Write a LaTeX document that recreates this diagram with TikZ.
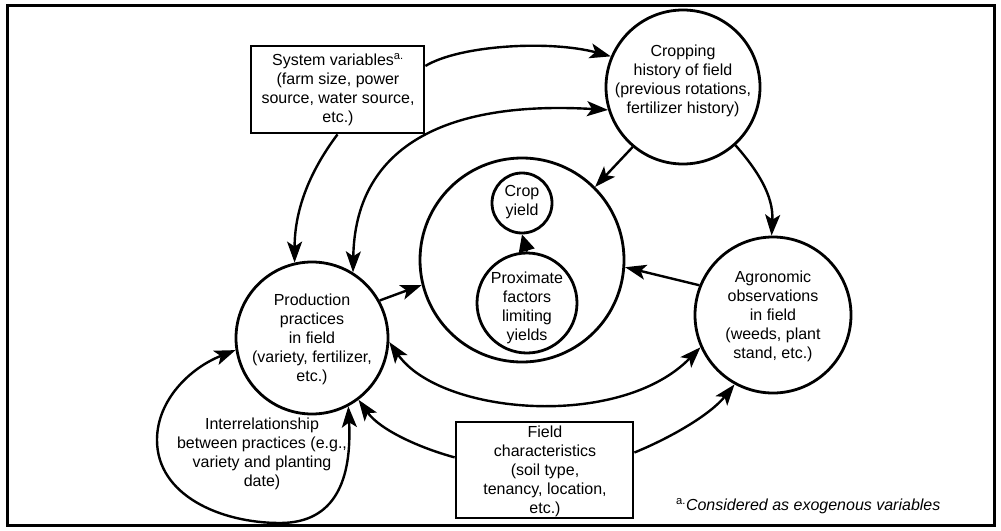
\documentclass[tikz,border=0pt]{standalone}
\usepackage{fontspec}
\setmainfont{Liberation Sans}
\usetikzlibrary{arrows.meta}
\begin{document}
\begin{tikzpicture}[x=1pt,y=-1pt,
  every node/.style={font=\fontsize{16}{19}\selectfont, align=center, inner sep=0pt},
  circ/.style={draw, circle, line width=2.8pt},
  boxn/.style={draw, rectangle, line width=2.8pt},
  tipa/.tip={Stealth[length=21pt,width=15pt,inset=5pt]},
  arr/.style={line width=2.4pt, -tipa},
  darr/.style={line width=2.4pt, tipa-tipa},
]
\useasboundingbox (0,0) rectangle (1001,530);
\draw[line width=3pt] (7,5) rectangle (994,525);

% circles
\node[circ, minimum size=154pt] (crop) at (683,87) {};
\node[circ, minimum size=204pt] (big) at (522,260) {};
\node[circ, minimum size=60pt] (yield) at (522,203) {};
\node[circ, minimum size=100pt] (prox) at (527,303) {};
\node[circ, minimum size=152pt] (prod) at (312,338) {};
\node[circ, minimum size=156pt] (agro) at (773,315) {};

% boxes
\node[boxn, minimum width=173pt, minimum height=87pt] (sys) at (337.5,89.5) {};
\node[boxn, minimum width=177pt, minimum height=96pt] (field) at (544.5,470) {};

% texts
\node (croptxt) at (683,81) {Cropping\\history of field\\(previous rotations,\\fertilizer history)};
\node (yieldtxt) at (522,202) {Crop\\yield};
\node (proxtxt) at (527,308) {Proximate\\factors\\limiting\\yields};
\node (prodtxt) at (312,339) {Production\\practices\\in field\\(variety, fertilizer,\\etc.)};
\node (agrotxt) at (773,316) {Agronomic\\observations\\in field\\(weeds, plant\\stand, etc.)};
\node (systxt) at (338,90) {System variables\textsuperscript{a.}\\(farm size, power\\source, water source,\\etc.)};
\node (fieldtxt) at (545,471) {Field\\characteristics\\(soil type,\\tenancy, location,\\etc.)};
\node (intertxt) at (262,454) {Interrelationship\\between practices (e.g.,\\variety and planting\\date)};
\node[anchor=west, font=\fontsize{16}{19}\selectfont\itshape] (note) at (676,506) {\textsuperscript{\upshape a.}Considered as exogenous variables};

% connectors
\draw[arr] (sys.south) .. controls +(-30,40) and +(0,-50) .. (prod.103);
\draw[arr] (sys.15) .. controls (460,45) and (550,40) .. (crop.157);
\draw[darr] (prod.58) .. controls (355,150) and (440,100) .. (crop.197);
\draw[arr] (crop.230) -- (big.45);
\draw[arr] (crop.312) .. controls +(22,25) and +(2,-40) .. (agro.91);
\draw[arr] (agro.158) -- (big.-4);
\draw[arr] (prod.29) -- (big.194);
\draw[darr] (prod.-3) .. controls (440,415) and (620,430) .. (agro.204);
\draw[arr] (field.172) .. controls (420,448) and (380,430) .. (prod.-53);
\draw[arr] (field.11) .. controls (670,438) and (710,415) .. (agro.241);
\draw[line width=2.4pt, -{Triangle[length=17pt,width=16pt]}] (prox.north) -- (yield.south);
\draw[darr] (prod.189) .. controls (190,368) and (157,400) .. (157,440)
  .. controls (157,495) and (220,523) .. (280,523)
  .. controls (335,523) and (352,480) .. (prod.-62);
\end{tikzpicture}
\end{document}
